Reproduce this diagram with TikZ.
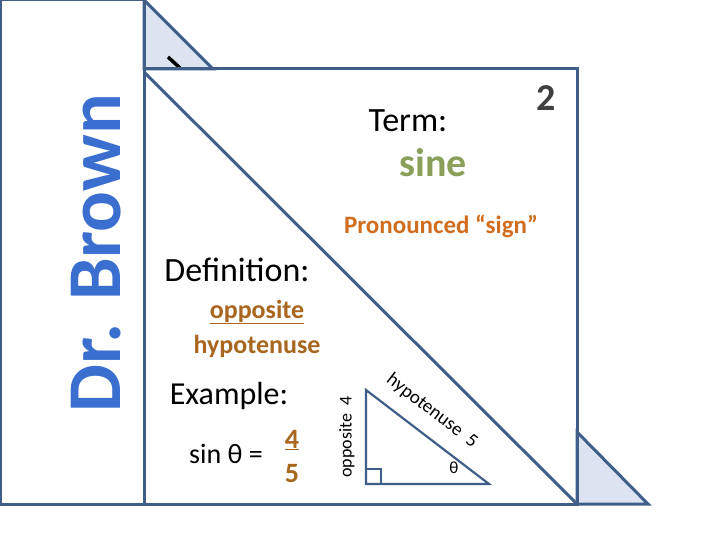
\documentclass[tikz,border=0pt]{standalone}
\usepackage{fontspec}
\setmainfont{Carlito}
\definecolor{edge}{HTML}{3F5F8A}
\definecolor{lite}{HTML}{DCE4F1}
\definecolor{sineg}{HTML}{8AA05A}
\definecolor{orng}{HTML}{D06D1E}
\definecolor{olv}{HTML}{A8661E}
\definecolor{drb}{HTML}{3A6FD0}
\begin{document}
\begin{tikzpicture}[x=1pt,y=-1pt,
  ln/.style={draw=edge,line width=3pt},
  tx/.style={inner sep=0pt,anchor=center}]
\useasboundingbox (0,0) rectangle (720,540);
\fill[white] (0,0) rectangle (720,540);
\filldraw[ln,fill=lite,line join=miter] (144,0) -- (144,69) -- (213,69) -- cycle;
\filldraw[ln,fill=lite] (577,432) -- (577,504) -- (648,504) -- cycle;
\draw[line width=3.5pt,black] (168,57) -- (180,68);
\draw[ln] (0,0) rectangle (144,504);
\draw[ln] (144,69) rectangle (577,504);
\draw[ln] (144,72) -- (577,504);
\draw[ln] (0,504) -- (577,504);
\node[tx,rotate=90,text=drb,font=\bfseries\fontsize{76}{76}\selectfont] (drb) at (96,253) {Dr. Brown};
\node[tx,font=\fontsize{34}{34}\selectfont] (term) at (408,121) {Term:};
\node[tx,text=sineg,font=\bfseries\fontsize{40}{40}\selectfont] (sine) at (433,163) {sine};
\node[tx,font=\bfseries\fontsize{38}{38}\selectfont,text=black!75] (num) at (546,98) {2};
\node[tx,text=orng,font=\bfseries\fontsize{25}{25}\selectfont] (pr) at (441,226) {Pronounced “sign”};
\node[tx,font=\fontsize{34}{34}\selectfont] (def) at (237,270) {Definition:};
\node[tx,text=olv,font=\bfseries\fontsize{26}{26}\selectfont] (opp) at (257,312) {\underline{opposite}};
\node[tx,text=olv,font=\bfseries\fontsize{26}{26}\selectfont] (hyp) at (257,346) {hypotenuse};
\node[tx,font=\fontsize{32}{32}\selectfont] (ex) at (229,396) {Example:};
\node[tx,font=\fontsize{28}{28}\selectfont] (sin) at (226,454) {sin θ =};
\node[tx,text=olv,font=\bfseries\fontsize{28}{28}\selectfont] (n4) at (292,440) {\underline{4}};
\node[tx,text=olv,font=\bfseries\fontsize{28}{28}\selectfont] (n5) at (292,474) {5};
\draw[draw=edge,line width=2.2pt] (366,390) coordinate (ta) -- (366,484) coordinate (tb) -- (489,484) coordinate (tc) -- cycle;
\draw[draw=edge,line width=2pt] (366,469) -- (381,469) -- (381,484);
\node[tx,rotate=90,font=\fontsize{18}{18}\selectfont] (ol) at (347,437) {opposite\ \ 4};
\node[tx,rotate=-37.4,font=\fontsize{19}{19}\selectfont] (hl) at (432,411) {hypotenuse\ \ 5};
\node[tx,font=\fontsize{17}{17}\selectfont] (th) at (454,468) {θ};
\end{tikzpicture}
\end{document}
